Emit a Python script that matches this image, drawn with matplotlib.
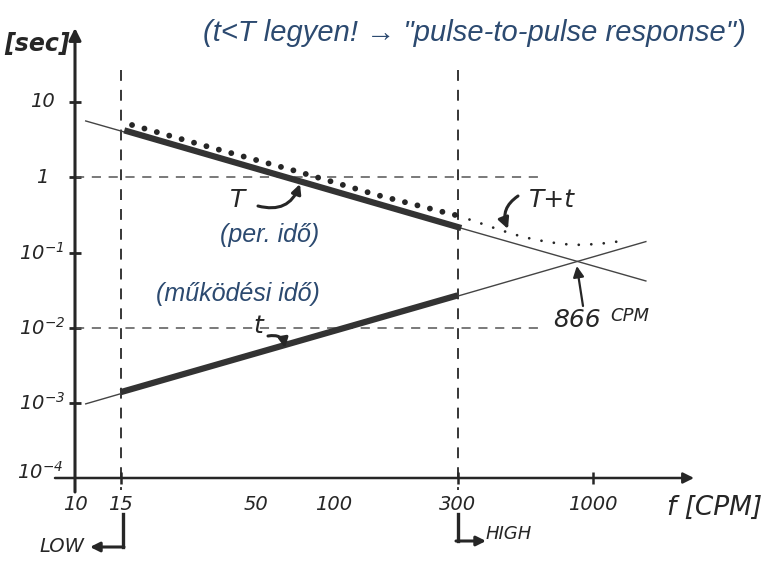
import matplotlib
matplotlib.use("Agg")
import matplotlib.pyplot as plt

plt.rcParams['mathtext.fontset'] = 'custom'
plt.rcParams['mathtext.rm'] = 'DejaVu Sans:italic'
plt.rcParams['mathtext.it'] = 'DejaVu Sans:italic'
plt.rcParams['mathtext.default'] = 'it'

# ---------------- data ----------------
f_T_thin = [11, 1600]
T_thin = [5.6, 0.042]
f_T_thick = [15.5, 310]
T_thick = [4.2, 0.212]

f_t_thin = [11, 1600]
t_thin = [0.00098, 0.14]
f_t_thick = [15, 300]
t_thick = [0.0014, 0.027]

f_Tt_big = [16.6, 30.9, 71.3, 146.6, 273, 300]
Tt_big = [4.95, 2.69, 1.21, 0.582, 0.336, 0.31]
f_Tt_small = [300, 356, 437, 537, 670, 837, 1045, 1306]
Tt_small = [0.31, 0.255, 0.200, 0.161, 0.138, 0.126, 0.130, 0.143]

f_limits = [15, 300]
f_cross = 866
y_ticks = [10, 1, 0.1, 0.01, 0.001]
y_ticklabels = ['10', '1', r'$10^{-1}$', r'$10^{-2}$', r'$10^{-3}$']
x_ticks = [10, 15, 50, 100, 300, 1000]
x_ticklabels = ['10', '15', '50', '100', '300', '1000']
guide_levels = [1, 0.01]

# ---------------- layout helpers ----------------
W, H = 778, 574
def X(px):
    return 10 ** (1 + (px - 75) / 259.0)
def Y(py):
    return 10 ** (1 - (py - 102) / 75.3)
def fp(x, y):
    return (x, H - y)

INK = '#262626'
BLUE = '#2c4a70'
HAND = dict(family=['DejaVu Sans'], style='italic', color=INK)
CURS = dict(family=['Liberation Sans', 'DejaVu Sans'], style='italic', color=BLUE)

fig = plt.figure(figsize=(W / 100, H / 100), dpi=100)
ax = fig.add_axes([0, 0, 1, 1])
ax.set_xscale('log')
ax.set_yscale('log')
ax.set_xlim(X(0), X(W))
ax.set_ylim(Y(H), Y(0))
ax.axis('off')

# axes with arrows
ax.annotate('', xy=fp(75, 28), xytext=fp(75, 492), xycoords='figure pixels',
            textcoords='figure pixels',
            arrowprops=dict(arrowstyle='-|>', lw=2.2, color=INK, mutation_scale=18,
                            shrinkA=0, shrinkB=0))
ax.annotate('', xy=fp(694, 478), xytext=fp(55, 478), xycoords='figure pixels',
            textcoords='figure pixels',
            arrowprops=dict(arrowstyle='-|>', lw=1.8, color=INK, mutation_scale=16,
                            shrinkA=0, shrinkB=0))

# ticks
ax.plot([10] * len(y_ticks), y_ticks, ls='none', marker='_', ms=9, mew=2, color=INK)
ax.plot(x_ticks[1:2] + x_ticks[4:], [1e-4] * 3, ls='none', marker='|', ms=9, mew=1.8, color=INK)

# tick labels
for v, lab in zip(y_ticks, y_ticklabels):
    fig.text(42 / W, ax.transData.transform((10, v))[1] / H, lab, ha='center',
             va='center', fontsize=14, **HAND)
fig.text(40 / W, (H - 472) / H, r'$10^{-4}$', ha='center', va='center', fontsize=14, **HAND)
for f, lab in zip(x_ticks, x_ticklabels):
    fig.text(ax.transData.transform((f, 1))[0] / W, (H - 504) / H, lab, ha='center',
             va='center', fontsize=14, **HAND)

# guide dashed lines
for f in f_limits:
    ax.plot([f, f], [Y(70), Y(490)], ls=(0, (6, 5)), lw=1.3, color=INK)
for lv in guide_levels:
    ax.plot([10, X(540)], [lv, lv], ls=(0, (6, 5)), lw=1.1, color='#555555')

# main lines
ax.plot(f_T_thin, T_thin, lw=1.0, color='#444444')
ax.plot(f_t_thin, t_thin, lw=1.0, color='#444444')
ax.plot(f_T_thick, T_thick, lw=4.5, color='#333333', solid_capstyle='butt')
ax.plot(f_t_thick, t_thick, lw=4.5, color='#333333', solid_capstyle='butt')

# T + t dotted curve
ax.plot(f_Tt_big, Tt_big, lw=4.2, color=INK, ls=(0, (0.01, 2.2)), dash_capstyle='round')
ax.plot(f_Tt_small, Tt_small, lw=2.0, color=INK, ls=(0, (0.01, 4.5)), dash_capstyle='round')

# axis titles
fig.text(37 / W, 1 - 44 / H, '[sec]', ha='center', va='center', fontsize=17,
         weight='bold', **HAND)
fig.text(715 / W, 1 - 508 / H, 'f [CPM]', ha='center', va='center', fontsize=19, **HAND)

# LOW / HIGH markers
ax.plot([X(123), X(123)], [Y(514), Y(547)], color=INK, lw=2.4)
ax.annotate('', xy=fp(90, 547), xytext=fp(124, 547), xycoords='figure pixels',
            textcoords='figure pixels',
            arrowprops=dict(arrowstyle='-|>', lw=2.2, color=INK, mutation_scale=14,
                            shrinkA=0, shrinkB=0))
fig.text(62 / W, 1 - 547 / H, 'LOW', ha='center', va='center', fontsize=14, **HAND)
ax.plot([300, 300], [Y(514), Y(541)], color=INK, lw=2.4)
ax.annotate('', xy=fp(486, 541), xytext=fp(456, 541), xycoords='figure pixels',
            textcoords='figure pixels',
            arrowprops=dict(arrowstyle='-|>', lw=2.2, color=INK, mutation_scale=14,
                            shrinkA=0, shrinkB=0))
fig.text(509 / W, 1 - 534 / H, 'HIGH', ha='center', va='center', fontsize=13, **HAND)

# labels on curves
fig.text(238 / W, 1 - 200 / H, 'T', ha='center', va='center', fontsize=18, **HAND)
ax.annotate('', xy=(X(300), Y(184)), xytext=fp(258, 206), textcoords='figure pixels',
            arrowprops=dict(arrowstyle='-|>', lw=2.2, color=INK, mutation_scale=14,
                            connectionstyle='arc3,rad=0.45', shrinkA=0, shrinkB=0))
fig.text(270 / W, 1 - 235 / H, '(per. idő)', ha='center', va='center', fontsize=18, **CURS)

fig.text(552 / W, 1 - 200 / H, 'T+t', ha='center', va='center', fontsize=18, **HAND)
ax.annotate('', xy=(X(508), Y(229)), xytext=fp(518, 196), textcoords='figure pixels',
            arrowprops=dict(arrowstyle='-|>', lw=2.2, color=INK, mutation_scale=16,
                            connectionstyle='arc3,rad=0.4', shrinkA=0, shrinkB=0))

fig.text(238 / W, 1 - 294 / H, '(működési idő)', ha='center', va='center', fontsize=18, **CURS)
fig.text(258 / W, 1 - 326 / H, 't', ha='center', va='center', fontsize=18, **HAND)
ax.annotate('', xy=(X(285), Y(348)), xytext=fp(268, 336), textcoords='figure pixels',
            arrowprops=dict(arrowstyle='-|>', lw=2.2, color=INK, mutation_scale=14,
                            connectionstyle='arc3,rad=-0.5', shrinkA=0, shrinkB=0))

ax.annotate('', xy=(f_cross, Y(266)), xytext=fp(583, 306), textcoords='figure pixels',
            arrowprops=dict(arrowstyle='-|>', lw=1.6, color=INK, mutation_scale=16,
                            shrinkA=0, shrinkB=0))
fig.text(577 / W, 1 - 320 / H, str(f_cross), ha='center', va='center', fontsize=18, **HAND)
fig.text(630 / W, 1 - 316 / H, 'CPM', ha='center', va='center', fontsize=13, **HAND)

# top handwritten note
fig.text(474 / W, 1 - 33 / H, '(t<T legyen! → "pulse-to-pulse response")', ha='center',
         va='center', fontsize=21, **CURS)

fig.savefig('out.png', dpi=100)
